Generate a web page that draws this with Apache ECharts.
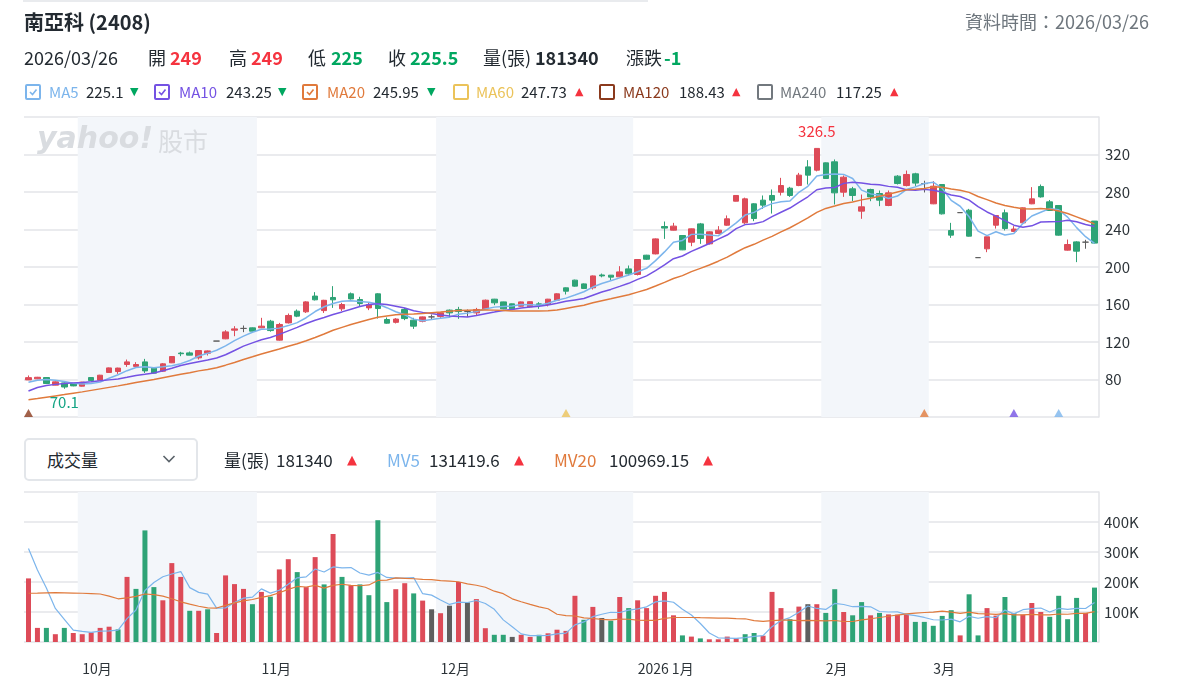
<!DOCTYPE html>
<html>
<head>
<meta charset="utf-8">
<script src="https://cdn.jsdelivr.net/npm/echarts@6/dist/echarts.min.js"></script>
<style>
  html, body { margin: 0; padding: 0; background: #fff; }
  body { width: 1178px; height: 693px; position: relative; overflow: hidden;
         font-family: "Noto Sans CJK TC", "Noto Sans", sans-serif; color: #232a31; }
  #chart { position: absolute; left: 0; top: 0; width: 1178px; height: 693px; }
  .hd { position: absolute; white-space: nowrap; z-index: 2; }
  .up { color: #f5333f; }
  .dn { color: #00a760; }
  .row2 { top: 45px; line-height: 24px; font-size: 18px; }
  .row2 b { font-weight: 700; }
  .leg { top: 82px; line-height: 20px; font-size: 15px; }
  .arrow { font-family: "DejaVu Sans", sans-serif; font-size: 11px; }
  .box { position: absolute; top: 84px; width: 16px; height: 16px; box-sizing: border-box;
         border: 2px solid; border-radius: 2px; background: #fff; z-index: 2; }
  .box svg { position: absolute; left: 1px; top: 1px; }
  .vol { top: 448px; line-height: 24px; font-size: 17px; }
</style>
</head>
<body>
<div class="hd" style="left:23px;top:0;width:625px;height:2px;background:#e9ebee"></div>

<!-- title + data time -->
<div class="hd" style="left:24px;top:10px;font-size:20px;font-weight:700;line-height:24px">南亞科 (2408)</div>
<div class="hd" style="right:29px;top:9px;font-size:18px;line-height:24px;color:#6e767d">資料時間：2026/03/26</div>

<!-- quote row -->
<span class="hd row2" style="left:24px">2026/03/26</span>
<span class="hd row2" style="left:148px">開</span><b class="hd row2 up" style="left:170px">249</b>
<span class="hd row2" style="left:229px">高</span><b class="hd row2 up" style="left:251px">249</b>
<span class="hd row2" style="left:308px">低</span><b class="hd row2 dn" style="left:331px">225</b>
<span class="hd row2" style="left:388px">收</span><b class="hd row2 dn" style="left:410px">225.5</b>
<span class="hd row2" style="left:483px">量(張)</span><b class="hd row2" style="left:535px">181340</b>
<span class="hd row2" style="left:626px">漲跌</span><b class="hd row2 dn" style="left:664px">-1</b>

<!-- MA legend -->
<div class="box" style="left:25px;border-color:#7cb5ec"><svg width="10" height="10"><polyline points="2,5 4.5,7.5 8.5,2.5" fill="none" stroke="#7cb5ec" stroke-width="1.6"/></svg></div>
<span class="hd leg" style="left:49px;color:#7cb5ec">MA5</span><span class="hd leg" style="left:86px">225.1</span><span class="hd leg arrow dn" style="left:130px">▼</span>
<div class="box" style="left:154px;border-color:#7452e3"><svg width="10" height="10"><polyline points="2,5 4.5,7.5 8.5,2.5" fill="none" stroke="#7452e3" stroke-width="1.6"/></svg></div>
<span class="hd leg" style="left:179px;color:#7452e3">MA10</span><span class="hd leg" style="left:226px">243.25</span><span class="hd leg arrow dn" style="left:278px">▼</span>
<div class="box" style="left:302px;border-color:#e07a3c"><svg width="10" height="10"><polyline points="2,5 4.5,7.5 8.5,2.5" fill="none" stroke="#e07a3c" stroke-width="1.6"/></svg></div>
<span class="hd leg" style="left:327px;color:#e07a3c">MA20</span><span class="hd leg" style="left:373px">245.95</span><span class="hd leg arrow dn" style="left:427px">▼</span>
<div class="box" style="left:453px;border-color:#ebc35a"></div>
<span class="hd leg" style="left:476px;color:#ebc35a">MA60</span><span class="hd leg" style="left:521px">247.73</span><span class="hd leg arrow up" style="left:575px">▲</span>
<div class="box" style="left:599px;border-color:#8b3a1d"></div>
<span class="hd leg" style="left:623px;color:#8b3a1d">MA120</span><span class="hd leg" style="left:679px">188.43</span><span class="hd leg arrow up" style="left:732px">▲</span>
<div class="box" style="left:757px;border-color:#72787e"></div>
<span class="hd leg" style="left:780px;color:#72787e">MA240</span><span class="hd leg" style="left:836px">117.25</span><span class="hd leg arrow up" style="left:890px">▲</span>

<!-- volume header -->
<div class="hd" style="left:24px;top:438px;width:174px;height:43px;box-sizing:border-box;border:2px solid #e3e6ea;border-radius:5px;background:#fff"></div>
<span class="hd vol" style="left:47px">成交量</span>
<svg class="hd" style="left:162px;top:454px" width="14" height="10"><polyline points="1.5,2 7,7.5 12.5,2" fill="none" stroke="#5b636a" stroke-width="1.6"/></svg>
<span class="hd vol" style="left:224px">量(張)</span><span class="hd vol" style="left:276px">181340</span><span class="hd vol arrow up" style="left:347px;font-size:13px">▲</span>
<span class="hd vol" style="left:387px;color:#7cb5ec">MV5</span><span class="hd vol" style="left:429px">131419.6</span><span class="hd vol arrow up" style="left:514px;font-size:13px">▲</span>
<span class="hd vol" style="left:554px;color:#e07a3c">MV20</span><span class="hd vol" style="left:609px">100969.15</span><span class="hd vol arrow up" style="left:703px;font-size:13px">▲</span>

<div id="chart"></div>

<script>
// trading days shown (2025/09/22 - 2026/03/26)
const dates = [
  '2025/09/22','2025/09/23','2025/09/24','2025/09/25','2025/09/26','2025/09/30',
  '2025/10/01','2025/10/02','2025/10/03','2025/10/07','2025/10/08','2025/10/09','2025/10/13','2025/10/14','2025/10/15','2025/10/16',
  '2025/10/17','2025/10/20','2025/10/21','2025/10/22','2025/10/23','2025/10/27','2025/10/28','2025/10/29','2025/10/30','2025/10/31',
  '2025/11/03','2025/11/04','2025/11/05','2025/11/06','2025/11/07','2025/11/10','2025/11/11','2025/11/12','2025/11/13','2025/11/14',
  '2025/11/17','2025/11/18','2025/11/19','2025/11/20','2025/11/21','2025/11/24','2025/11/25','2025/11/26','2025/11/27','2025/11/28',
  '2025/12/01','2025/12/02','2025/12/03','2025/12/04','2025/12/05','2025/12/08','2025/12/09','2025/12/10','2025/12/11','2025/12/12',
  '2025/12/15','2025/12/16','2025/12/17','2025/12/18','2025/12/19','2025/12/22','2025/12/23','2025/12/24','2025/12/26','2025/12/29',
  '2025/12/30','2025/12/31',
  '2026/01/02','2026/01/05','2026/01/06','2026/01/07','2026/01/08','2026/01/09','2026/01/12','2026/01/13','2026/01/14','2026/01/15',
  '2026/01/16','2026/01/19','2026/01/20','2026/01/21','2026/01/22','2026/01/23','2026/01/26','2026/01/27','2026/01/28','2026/01/29',
  '2026/01/30',
  '2026/02/02','2026/02/03','2026/02/04','2026/02/05','2026/02/06','2026/02/09','2026/02/10','2026/02/11','2026/02/23','2026/02/24',
  '2026/02/25','2026/02/26',
  '2026/03/02','2026/03/03','2026/03/04','2026/03/05','2026/03/06','2026/03/09','2026/03/10','2026/03/11','2026/03/12','2026/03/13',
  '2026/03/16','2026/03/17','2026/03/18','2026/03/19','2026/03/20','2026/03/23','2026/03/24','2026/03/25','2026/03/26'
]

const open = [
  79.6,80.7,82.1,74.0,76.4,75.7,72.9,82.1,79.3,87.5, 88.5,96.0,94.0,98.8,92.1,88.9,97.8,108.2,108.4,103.1,
  108.0,121,123.4,132.6,134.5,135.1,135.1,142.2,122.0,140.4, 152.9,152.2,169.0,153.5,167.5,155.4,171.4,165.3,156.4,171.4,
  144.0,141.0,154.7,143.3,142.2,146.8,147.3,154.0,154.7,152.5, 151.1,155.4,165.7,162.8,160.7,158.2,157.5,160.7,160.0,164.6,
  177.8,186.0,182.0,177.8,191.5,191.3,189.5,198.0,192.0,212.6, 214.0,243.2,239.3,233.6,226.5,246.0,224.7,235.7,244.6,270.2,
  247.1,267.4,271.3,276.3,279.8,284.1,286.9,306.8,303.3,311.1, 312.2,279.8,283.4,259.6,282.7,278.4,265.6,296.9,286.9,299.4,
  289,267.4,288.0,238.9,258,260.6,210,219.4,244.6,257.8, 238.0,247.1,267.4,285.9,269.5,265.6,218.0,226.8,226.5,249
]
const close = [
  82.0,82.4,75.7,77.5,72.0,73.2,77.2,78.9,84.6,92.4, 92.2,98.8,96.0,89.2,86.8,96.7,104.5,107.5,106.0,110.9,
  110.5,121,130.8,134.0,134.5,131.6,136.9,132.2,138.7,148.3, 147.6,162.8,165.0,164.5,165.0,160.0,166.0,161.1,160.0,155.7,
  140.1,144.5,145.0,136.9,146.8,146.8,151.1,151.1,152.5,152.5, 154.7,164.6,161.8,155.4,155.4,162.8,163.0,159.5,165.7,171.4,
  174.2,179.6,177.1,190.5,190.5,189.2,194.8,192.7,208.0,208.3, 230.0,241.5,243.6,218.3,240.7,230.4,237.5,239.3,251.4,276.3,
  272.7,251.7,266.0,271.3,286.9,276.3,298.0,298.0,326.5,294.4, 279.1,295.8,276.3,264.2,274.8,271.3,279.1,289.1,298.7,289.5,
  289,286.2,256.7,234.0,258,232.9,210,232.2,254.9,241.0, 240.5,263.1,272.7,274.8,260.3,234.0,224.0,216.9,226.5,225.5
]
const low = [
  79.4,80.4,75.3,73.8,70.1,72.8,72.5,78.5,79.0,87.0, 86.0,93.5,93.5,87.0,86.5,88.0,97.5,104.9,105.9,101.3,
  105.6,121,123.0,126.2,130.5,131.0,134.8,131.0,121.5,139.7, 146.5,151.0,164.3,151.0,156.4,152.9,165.3,158.2,154.0,145.0,
  139.5,139.8,143.3,134.0,141.0,144.0,145.8,145.8,144.7,146.8, 148.3,155.0,159.3,155.0,155.0,157.8,157.0,155.4,158.0,164.0,
  170.7,179.0,176.5,176.0,189.0,186.0,189.0,191.0,191.0,207.5, 213.5,230.0,239.0,218.0,222.2,224.7,224.0,235.0,244.0,270.0,
  246.0,248.9,262.0,257.0,276.3,274.8,286.2,288.0,302.0,294.0, 266.7,274.8,270.2,251.4,270.2,264.9,264.9,288.0,286.0,286.5,
  279.5,267.0,256.0,231.1,258,232.5,210,215.8,241.0,239.0, 237.2,246.5,267.0,274.0,260.0,233.5,217.5,205.2,219.5,225
]
const high = [
  84.3,82.8,82.6,78.0,77.0,76.0,77.6,82.5,85.0,92.8, 92.6,101.3,98.5,102.0,92.5,97.5,104.9,109.5,109.8,111.2,
  111.0,121,132.6,136.9,137.6,135.5,145.8,143.6,140.4,150.4, 154.7,163.5,173.2,165.0,179.6,161.8,172.8,168.2,161.8,172.0,
  146.2,145.5,156.4,145.8,147.2,149.3,151.5,154.7,157.5,154.7, 156.4,165.3,166.0,163.0,161.0,163.2,163.4,162.5,166.0,172.0,
  178.2,186.5,182.5,191.0,193.0,191.5,200.9,201.6,208.5,213.0, 230.5,248.5,247.1,234.0,241.0,247.0,238.0,243.6,255.0,276.5,
  274.0,268.0,276.3,282.7,295.1,285.5,300.4,314.0,326.5,311.5, 314.7,297.6,285.5,277.3,283.5,281.6,281.6,298.0,302.9,300.5,
  292,291.6,288.5,247.1,258,262.0,210,232.5,255.0,261.3, 243.6,263.5,285.2,288.0,271.5,266.0,229.3,227.5,229.0,249
]

// volume in thousands of lots (張)
const volume = [
  212,47,47,26,47,30,26,32,47,51, 42,217,177,372,183,139,263,217,104,104,
  109,30,222,193,177,126,167,151,242,276, 233,183,283,192,360,217,189,192,156,406,
  133,176,196,162,138,109,96,121,200,132, 143,46,24,24,17,24,17,24,29,41,
  37,154,74,117,80,71,150,113,139,113, 154,167,89,22,18,12,9,9,18,12,
  26,30,21,167,113,76,118,126,126,97, 176,100,89,133,89,97,92,91,92,67,
  67,54,87,106,22,159,22,113,88,150, 96,91,130,100,84,154,76,147,97,181.34
]

// moving averages as drawn on the chart
const ma5 = [
  77.0,79.3,80.0,79.2,77.8,76.0,75.1,75.8,77.2,81.3, 85.1,89.4,92.8,93.7,92.6,93.5,94.6,96.9,100.3,105.1,
  107.9,111.2,115.8,121.4,126.2,130.4,133.6,133.8,134.8,137.5, 140.7,145.9,152.5,157.6,161.0,163.5,164.1,163.3,162.4,160.6,
  156.6,152.3,149.1,144.4,142.7,144.0,145.3,146.5,149.7,150.8, 152.4,155.1,157.2,157.8,158.4,160.0,159.7,159.2,161.3,164.5,
  166.8,170.1,173.6,178.6,182.4,185.4,188.4,191.5,195.0,198.6, 206.8,216.1,226.3,228.3,234.8,234.9,234.1,233.2,239.9,247.0,
  255.4,258.3,263.6,267.6,269.7,270.4,279.7,286.1,297.1,298.6, 299.2,298.8,294.4,282.0,278.0,276.5,273.1,275.7,282.6,285.5,
  289.1,290.5,284.0,271.1,264.8,253.6,238.3,233.4,237.6,234.2, 235.7,246.3,254.4,258.4,262.3,261.0,253.2,242.0,232.3,225.1
]
const ma10 = [
  67.8,71.5,73.5,74.8,75.8,76.4,76.9,77.7,78.6,79.6, 80.5,82.3,84.3,85.5,86.9,89.3,92.0,94.9,97.0,98.9,
  100.7,102.9,106.4,110.9,115.6,119.1,122.4,124.8,128.1,131.9, 135.6,139.7,143.2,146.2,149.3,152.1,155.0,157.9,160.0,160.8,
  160.0,158.2,156.2,153.4,151.6,150.3,148.8,147.8,147.1,146.7, 148.2,150.2,151.9,153.7,154.6,156.2,157.4,158.2,159.5,161.4,
  163.4,164.9,166.4,169.9,173.4,176.1,179.3,182.6,186.8,190.5, 196.1,202.3,208.9,211.7,216.7,220.8,225.1,229.8,234.1,240.9,
  245.2,246.2,248.4,253.7,258.4,262.9,269.0,274.9,282.4,284.2, 284.8,289.2,290.3,289.6,288.3,287.8,286.0,285.1,282.3,281.8,
  282.8,281.8,279.9,276.8,275.2,271.3,264.4,258.7,254.3,249.5, 244.6,242.3,243.9,248.0,248.2,248.4,249.8,248.2,245.4,243.25
]
const ma20 = [
  58.4,59.7,61.1,62.5,63.9,65.4,66.8,68.4,70.0,71.6, 73.2,74.9,76.7,78.4,80.1,81.9,83.7,85.5,87.2,89.2,
  90.6,92.6,95.3,98.2,101.3,104.2,107.2,109.9,112.6,115.4, 118.1,121.3,124.8,128.5,132.5,135.6,138.7,141.4,144.1,146.3,
  147.8,149.0,149.7,149.8,150.4,151.2,151.9,152.9,153.5,153.8, 154.1,154.2,154.0,153.6,153.1,153.2,153.1,153.0,153.3,154.1,
  155.8,157.5,159.1,161.8,164.0,166.1,168.3,170.4,173.2,176.0, 179.7,183.6,187.7,190.8,195.1,198.5,202.2,206.2,210.5,215.7,
  220.6,224.2,228.7,232.7,237.5,241.9,247.0,252.3,258.2,262.5, 265.0,267.7,269.3,271.6,273.3,275.4,277.5,280.0,282.3,283.0,
  283.8,285.5,285.1,283.2,281.8,279.6,275.2,271.9,268.3,265.6, 263.7,262.1,261.9,262.4,261.7,259.8,257.1,253.5,249.9,245.95
]
const mv5 = [
  312,240,180,112,75.8,39.4,35.2,32.2,36.4,37.2, 39.6,77.8,106.8,171.8,198.2,217.6,226.8,234.8,181.2,165.4,
  159.4,112.8,113.8,131.6,146.2,149.6,177.0,162.8,172.6,192.4, 213.8,217.0,243.4,233.4,250.2,247.0,248.2,230.0,222.8,232.0,
  215.2,212.6,213.4,214.6,161.0,156.2,140.2,125.2,132.8,131.6, 138.4,128.4,109.0,73.8,50.8,27.0,21.2,21.2,22.2,27.0,
  29.6,57.0,67.0,84.6,92.4,99.2,98.4,106.2,110.6,117.2, 133.8,137.2,132.4,109.0,90.0,61.6,30.0,14.0,13.2,12.0,
  14.8,19.0,21.4,51.2,71.4,81.4,99.0,120.0,111.8,108.6, 128.6,125.0,117.6,119.0,117.4,101.6,100.0,100.4,92.2,87.8,
  81.8,74.2,73.4,76.2,67.2,85.6,79.2,84.4,80.8,106.4, 93.8,107.6,111.0,113.4,100.2,111.8,108.8,112.2,111.6,131.4
]
const mv20 = [
  162.5,163,164,164.3,163.8,163.2,162.5,161.5,160,153, 144,147,152,160,158,153,144,134,126,119.2,
  114,113.2,121.9,130.3,136.8,141.6,148.6,154.6,164.3,175.6, 185.1,183.4,188.7,179.7,188.6,192.5,188.8,187.5,190.1,205.2,
  206.4,213.7,212.4,210.9,208.9,208.1,204.5,203,200.9,193.7, 189.2,182.4,169.4,161,143.9,134.2,125.6,117.2,110.9,92.6,
  87.8,86.7,80.6,78.4,75.5,73.6,76.3,75.9,72.8,71.9, 72.4,78.5,81.7,81.6,81.7,81.1,80.7,79.9,79.4,77.9,
  77.4,71.2,68.5,71,72.7,72.9,71.3,72,71.3,70.5, 71.6,68.3,68.3,73.8,77.4,81.6,85.8,89.9,93.6,96.3,
  98.4,99.6,102.9,99.8,95.3,99.4,94.6,94,92,94.7, 90.7,90.3,92.3,90.7,90.4,93.3,92.5,95.3,95.5,101.0
]

// small triangles on the bottom edge of the price panel
const signalDates = ['2025/09/22', '2025/12/19', '2026/02/26', '2026/03/13', '2026/03/20']
const signalLines = ['MA120', 'MA60', 'MA20', 'MA10', 'MA5']

const UP = '#dd4b58', DOWN = '#2ea376', FLAT = '#5e5e5e'
const lineColors = { MA5: '#7cb5ec', MA10: '#7452e3', MA20: '#e07a3c', MA60: '#ebc35a', MA120: '#8b3a1d' }
const GRID = '#e3e5e9', BAND = '#f3f6fa', TXT = '#2c3338'
const FONT = '"Noto Sans CJK TC", "Noto Sans", sans-serif'

// first trading day of each month -> band edges and month labels
const monthStart = dates.map((d, i) => i > 0 && d.slice(0, 7) !== dates[i - 1].slice(0, 7))

const candleData = dates.map((d, i) => {
  const item = { value: [open[i], close[i], low[i], high[i]] }
  if (open[i] === close[i]) {
    item.itemStyle = { color: FLAT, color0: FLAT, borderColor: FLAT, borderColor0: FLAT, borderColorDoji: FLAT }
  }
  return item
})

// volume colour follows close vs previous close
const volData = volume.map((v, i) => {
  const diff = i === 0 ? 1 : close[i] - close[i - 1]
  const color = diff > 0 ? UP : diff < 0 ? DOWN : FLAT
  return { value: v, itemStyle: { color } }
})

const monthAxis = (gridIndex, showLabel) => ({
  type: 'category',
  gridIndex,
  data: dates,
  boundaryGap: true,
  axisLine: { show: false },
  axisTick: { show: false },
  axisLabel: showLabel ? {
    interval: (i) => monthStart[i],
    formatter: (v) => {
      const m = Number(v.slice(5, 7))
      return m === 1 ? `${v.slice(0, 4)} 1月` : `${m}月`
    },
    align: 'left',
    margin: 20,
    color: TXT,
    fontSize: 14,
    fontFamily: FONT,
  } : { show: false },
  splitLine: { show: false },
  splitArea: { show: true, interval: (i) => monthStart[i], areaStyle: { color: ['rgba(255,255,255,0)', BAND] } },
})

const maLine = (name, data, color, xi, yi, width) => ({
  name, type: 'line', xAxisIndex: xi, yAxisIndex: yi, data,
  symbol: 'none', smooth: false, silent: true,
  lineStyle: { color, width },
})

const chart = echarts.init(document.getElementById('chart'))

chart.setOption({
  animation: false,
  textStyle: { fontFamily: FONT },
  graphic: [
    { type: 'text', left: 37, top: 125, z: 1, silent: true,
      style: { text: 'yahoo!', font: 'italic 900 30px "DejaVu Sans"', fill: '#d9dce0' } },
    { type: 'text', left: 158, top: 129, z: 1, silent: true,
      style: { text: '股市', font: `25px ${FONT}`, fill: '#d9dce0' } },
  ],
  grid: [
    { left: 24, top: 117, width: 1075, height: 300 },
    { left: 24, top: 492, width: 1075, height: 150 },
  ],
  xAxis: [monthAxis(0, false), monthAxis(1, true)],
  yAxis: [
    {
      type: 'value', gridIndex: 0, position: 'right', min: 40, max: 360, interval: 40,
      axisLine: { show: true, lineStyle: { color: GRID, width: 1.5 } },
      axisTick: { show: false },
      axisLabel: { showMinLabel: false, showMaxLabel: false, margin: 6, color: TXT, fontSize: 15 },
      splitLine: { lineStyle: { color: GRID, width: 1.5 } },
    },
    {
      type: 'value', gridIndex: 1, position: 'right', min: 0, max: 500, interval: 100,
      axisLine: { show: true, lineStyle: { color: GRID, width: 1.5 } },
      axisTick: { show: false },
      axisLabel: { showMinLabel: false, showMaxLabel: false, margin: 5, color: TXT, fontSize: 15, formatter: (v) => `${v}K` },
      splitLine: { lineStyle: { color: GRID, width: 1.5 } },
    },
  ],
  series: [
    {
      name: 'K', type: 'candlestick', xAxisIndex: 0, yAxisIndex: 0, data: candleData,
      barWidth: 6,
      itemStyle: { color: UP, color0: DOWN, borderColor: UP, borderColor0: DOWN, borderWidth: 1 },
      markPoint: {
        symbol: 'circle', symbolSize: 0, silent: true,
        data: [
          { type: 'max', valueDim: 'highest',
            label: { position: 'top', distance: 10, color: '#f5333f', fontSize: 15 } },
          { type: 'min', valueDim: 'lowest',
            label: { position: 'bottom', distance: 6, color: '#12a383', fontSize: 15 } },
        ],
        label: { show: true, formatter: (p) => String(p.value) },
      },
    },
    maLine('MA5', ma5, lineColors.MA5, 0, 0, 1.5),
    maLine('MA10', ma10, lineColors.MA10, 0, 0, 1.5),
    maLine('MA20', ma20, lineColors.MA20, 0, 0, 1.5),
    {
      name: 'signal', type: 'scatter', xAxisIndex: 0, yAxisIndex: 0, silent: true,
      symbol: 'triangle', symbolSize: [9, 8], symbolOffset: [0, -4],
      data: signalDates.map((d, i) => ({ value: [d, 40], itemStyle: { color: lineColors[signalLines[i]] } })),
    },
    {
      name: '成交量', type: 'bar', xAxisIndex: 1, yAxisIndex: 1, data: volData, barWidth: 5,
    },
    maLine('MV5', mv5, lineColors.MA5, 1, 1, 1.2),
    maLine('MV20', mv20, lineColors.MA20, 1, 1, 1.2),
  ],
})
</script>
</body>
</html>
